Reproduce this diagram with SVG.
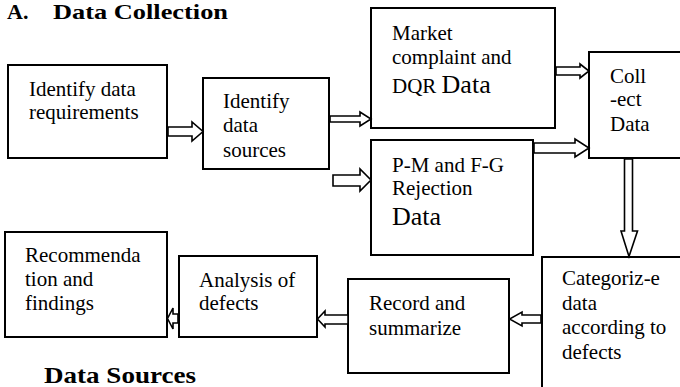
<svg xmlns="http://www.w3.org/2000/svg" width="680" height="387" viewBox="0 0 680 387">
<style>
.box{fill:#fff;stroke:#000;stroke-width:2}
.t{font-family:"Liberation Serif","Times New Roman",serif;font-size:21px;fill:#000}
.big{font-size:26px}
.h{font-family:"Liberation Serif","Times New Roman",serif;font-size:24px;font-weight:bold;fill:#000}
.arr{fill:#fff;stroke:#000;stroke-width:1.6;stroke-linejoin:miter}
</style>
<rect width="680" height="387" fill="#fff"/>
<text class="h" x="7" y="19" style="font-size:22px">A.</text>
<text class="h" x="53" y="19" style="font-size:22px" textLength="175" lengthAdjust="spacingAndGlyphs">Data Collection</text>
<text class="h" x="44" y="383" textLength="152" lengthAdjust="spacingAndGlyphs">Data Sources</text>

<g id="req"><rect class="box" x="8" y="65" width="159" height="93"/>
<text class="t" x="29" y="96">Identify data</text><text class="t" x="29" y="119">requirements</text></g>
<g id="sources"><rect class="box" x="203" y="78" width="126" height="91"/>
<text class="t" x="223" y="108">Identify</text><text class="t" x="223" y="132">data</text><text class="t" x="223" y="157">sources</text></g>
<g id="market"><rect class="box" x="371" y="8" width="184" height="120"/>
<text class="t" x="392" y="40">Market</text><text class="t" x="392" y="64">complaint and</text><text class="t" x="392" y="93">DQR <tspan class="big">Data</tspan></text></g>
<g id="pm"><rect class="box" x="371" y="140" width="162" height="115"/>
<text class="t" x="392" y="172">P-M and F-G</text><text class="t" x="392" y="195">Rejection</text><text class="t big" x="392" y="225">Data</text></g>
<g id="collect"><rect class="box" x="589" y="52" width="110" height="106"/>
<text class="t" x="610" y="83">Coll</text><text class="t" x="610" y="106">-ect</text><text class="t" x="610" y="131">Data</text></g>
<g id="categorize"><rect class="box" x="542" y="257" width="150" height="150"/>
<text class="t" x="562" y="285">Categoriz-e</text><text class="t" x="562" y="310">data</text><text class="t" x="562" y="334">according to</text><text class="t" x="562" y="359">defects</text></g>
<g id="record"><rect class="box" x="348" y="279" width="161" height="94"/>
<text class="t" x="369" y="310">Record and</text><text class="t" x="369" y="335">summarize</text></g>
<g id="analysis"><rect class="box" x="179" y="256" width="138" height="81"/>
<text class="t" x="199" y="287">Analysis of</text><text class="t" x="199" y="310">defects</text></g>
<g id="recommend"><rect class="box" x="5" y="232" width="162" height="105"/>
<text class="t" x="25" y="262">Recommenda</text><text class="t" x="25" y="286">tion and</text><text class="t" x="25" y="310">findings</text></g>

<g id="connectors">
<polygon class="arr" points="168,127 192,127 192,122 203,131.5 192,141 192,136 168,136"/>
<polygon class="arr" points="330,116 360,116 360,112 371,119 360,126 360,122 330,122"/>
<polygon class="arr" points="333,175 360,175 360,169 371,180 360,191 360,186 333,186"/>
<polygon class="arr" points="556,67 580,67 580,64 589,71 580,78 580,75 556,75"/>
<polygon class="arr" points="534,143 575,143 575,139 589,148 575,157 575,153 534,153"/>
<polygon class="arr" points="624.5,159 632.5,159 632.5,231 637.5,231 629,256.5 621,231 624.5,231"/>
<polygon class="arr" points="541,315 522,315 522,312 509.5,319 522,326 522,323 541,323"/>
<polygon class="arr" points="348,315 325,315 325,311 317.5,319 325,327 325,324 348,324"/>
<polygon class="arr" points="178,314 173,314 173,308 167.5,318.5 173,329 173,323 178,323"/>
</g>
</svg>
